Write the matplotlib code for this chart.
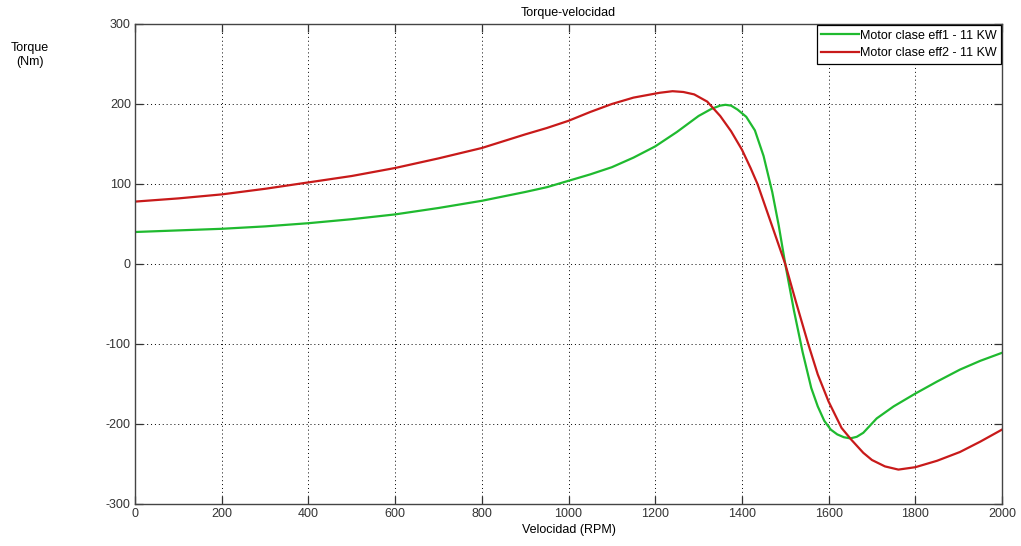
import matplotlib
matplotlib.use("Agg")
import matplotlib.pyplot as plt

plt.rcParams["font.family"] = ["Liberation Sans", "DejaVu Sans"]
plt.rcParams["axes.unicode_minus"] = False

# Motor eff1 - 11 kW
rpm_eff1 = [0, 100, 200, 300, 400, 500, 600, 700, 800, 900, 950, 1000, 1050,
            1100, 1150, 1200, 1250, 1300, 1330, 1350, 1362, 1375, 1390, 1410,
            1430, 1450, 1470, 1485, 1500, 1520, 1540, 1560, 1575, 1590, 1605,
            1620, 1635, 1650, 1665, 1680, 1711, 1750, 1800, 1850, 1903, 1950, 2000]
torque_eff1 = [40, 42, 44, 47, 51, 56, 62, 70, 79, 90, 96, 104, 112,
               121, 133, 147, 165, 185, 194, 198, 199, 198, 193, 184,
               167, 135, 90, 48, 0, -58, -110, -155, -178, -196, -207,
               -213, -216.5, -218, -216, -211, -193, -178, -162, -147, -132, -121, -111]

# Motor eff2 - 11 kW
rpm_eff2 = [0, 100, 200, 300, 400, 500, 600, 700, 800, 900, 950, 1000, 1050,
            1100, 1150, 1180, 1210, 1240, 1265, 1290, 1320, 1350, 1375, 1400,
            1420, 1436, 1470, 1500, 1525, 1553, 1575, 1600, 1630, 1653, 1680,
            1700, 1730, 1761, 1800, 1850, 1903, 1950, 2000]
torque_eff2 = [78, 82, 87, 94, 102, 110, 120, 132, 145, 162, 170, 179, 190,
               200, 208, 211, 214, 216, 215, 212, 203, 185, 166, 143,
               120, 100, 47, 0, -48, -100, -138, -172, -205, -220, -236,
               -245, -253, -257, -254, -246, -235, -222, -207]

fig = plt.figure(figsize=(10.21, 5.46), dpi=100)
ax = fig.add_axes([135 / 1021, 1 - 504 / 546, 867 / 1021, 480 / 546])

ax.plot(rpm_eff1, torque_eff1, color="#1fba2f", lw=1.6, label="Motor clase eff1 - 11 KW")
ax.plot(rpm_eff2, torque_eff2, color="#c81a1a", lw=1.6, label="Motor clase eff2 - 11 KW")

ax.set_xlim(0, 2000)
ax.set_ylim(-300, 300)
ax.set_xticks(range(0, 2001, 200))
ax.set_yticks(range(-300, 301, 100))
ax.grid(True, color="black", linestyle=(0, (1, 3)), linewidth=0.7)
ax.tick_params(direction="in", length=6, top=True, right=True, labelsize=9,
               colors="#333333", width=0.9, pad=3)
for s in ax.spines.values():
    s.set_color("#444444")
    s.set_linewidth(1.0)

ax.set_title("Torque-velocidad", fontsize=9, pad=6)
ax.set_xlabel("Velocidad (RPM)", fontsize=9, labelpad=3)
fig.text(30 / 1021, 1 - 55 / 546, "Torque\n(Nm)", ha="center", va="center", fontsize=9)

leg = ax.legend(loc="upper right", fontsize=9, fancybox=False, framealpha=1,
                edgecolor="black", borderaxespad=0.1, handlelength=3.0,
                handletextpad=0.1, labelspacing=0.45, borderpad=0.35)
leg.get_frame().set_linewidth(0.9)

fig.savefig("out.png", dpi=100)
